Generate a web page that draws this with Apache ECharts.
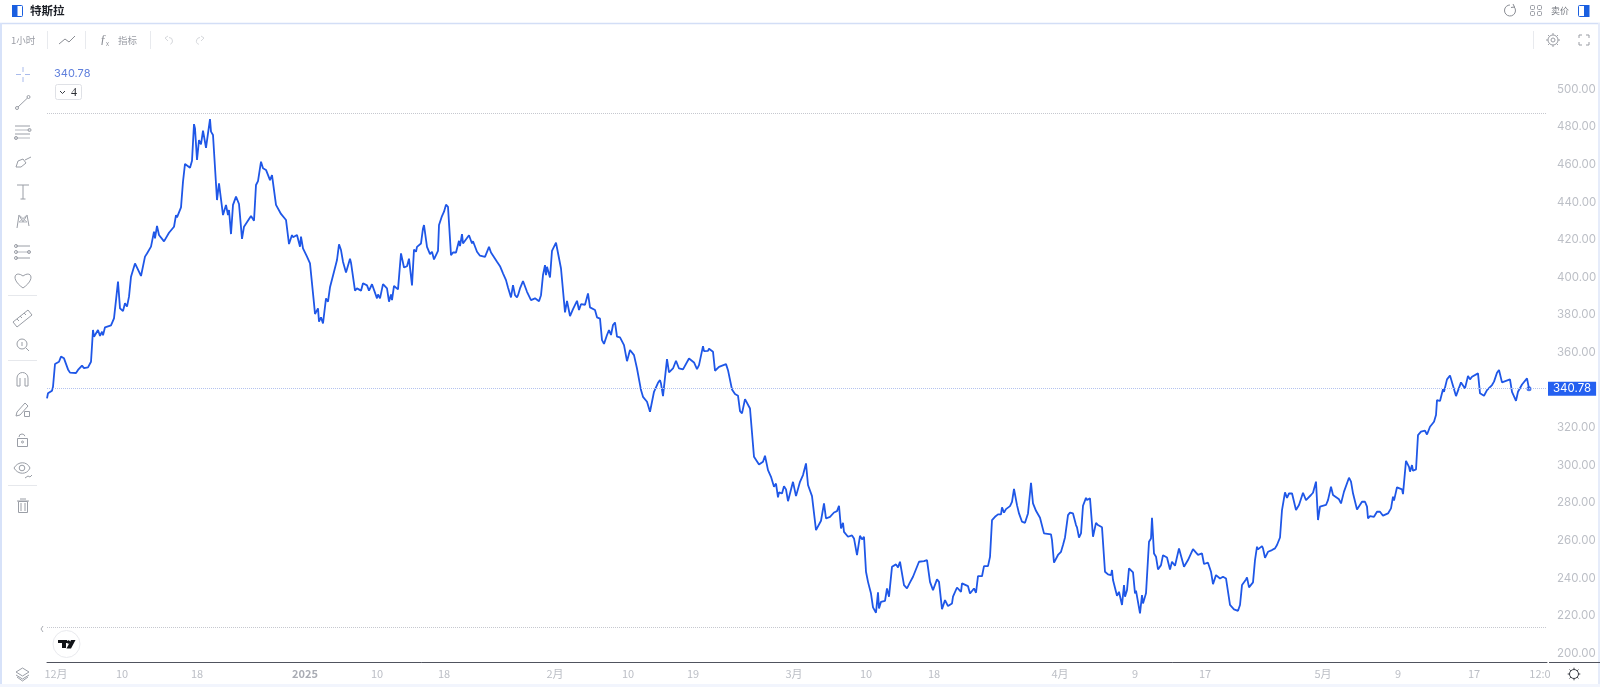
<!DOCTYPE html>
<html>
<head>
<meta charset="utf-8">
<title>特斯拉</title>
<style>
  html, body { margin: 0; padding: 0; background: #fff; }
  #chart { width: 1600px; height: 687px; }
</style>
<script src="https://cdn.jsdelivr.net/npm/echarts@6/dist/echarts.min.js"></script>
</head>
<body>
<div id="chart"></div>
<script>
// price trace: bar position and close
const barPos = [0,1,5,6,8,10,12,14,17,19,21,23,25,29,31,33,35,37,41,44,46,47,51,53,55,56,58,64,67,69,71,73,76,78,80,82,84,88,90,94,98,100,104,107,108,110,112,117,119,122,124,127,129,130,134,136,138,143,145,147,148,150,152,154,156,157,159,161,163,164,166,170,172,176,177,179,181,182,184,186,189,192,193,195,197,204,207,209,211,213,214,216,219,223,225,227,229,234,236,239,242,245,246,250,252,253,254,256,260,263,265,267,268,271,272,274,276,279,281,283,285,287,290,292,294,296,297,299,301,303,304,308,310,312,314,316,320,322,325,327,330,331,333,336,338,340,342,344,345,347,351,353,
  354,357,360,362,365,367,369,370,374,376,377,380,383,385,387,391,392,395,397,399,401,404,406,409,412,413,415,416,422,425,426,430,433,435,438,440,442,444,446,450,453,456,459,461,462,464,466,468,470,471,473,474,476,478,480,484,488,490,492,494,496,498,499,500,502,503,505,507,509,511,514,515,518,520,523,526,528,530,532,534,538,541,543,548,550,553,555,557,560,562,564,566,568,570,573,577,580,583,587,590,594,596,600,603,607,609,611,613,
  614,616,620,622,626,629,632,636,642,647,650,652,656,657,661,662,666,668,670,672,679,681,685,688,691,693,695,698,700,703,707,709,712,716,718,721,724,727,729,731,732,735,737,739,741,743,746,749,750,753,756,758,759,761,765,767,769,771,774,777,779,781,783,785,787,790,792,794,796,797,801,805,807,810,813,815,817,819,821,824,826,829,831,832,834,838,840,842,845,846,849,851,853,855,857,860,863,866,868,872,877,880,883,886,890,892,895,898,901,905,906,910,914,915,921,923,927,929,931,935,937,941,943,945,948,951,953,
  954,955,957,959,963,965,967,970,972,975,978,981,984,986,989,991,993,995,997,1004,1005,1007,1009,1011,1014,1016,1018,1021,1023,1026,1029,1030,1032,1034,1036,1039,1040,1043,1046,1049,1051,1053,1055,1058,1061,1064,1065,1066,1068,1070,1072,1075,1077,1078,1080,1082,1086,1088,1089,1093,1095,1096,1099,1102,1104,1105,1107,1109,1111,1114,1116,1120,1123,1125,1128,1132,1134,1137,1141,1146,1148,1151,1155,1157,1161,1164,1166,1169,1171,1173,1176,1179,1181,1183,1185,1187,1189,1191,1193,1195,1199,1200,1202,1206,1208,1210,1211,1215,1216,1218,1221,1223,1225,1228,1230,1233,1235,1238,1240,1242,
  1243,1245,1249,1252,1256,1259,1264,1266,1269,1271,1273,1275,1279,1281,1282,1284,1286,1292,1294,1297,1299,1302,1304,1306,1310,1311,1315,1318,1320,1321,1323,1327,1330,1333,1336,1341,1344,1346,1347,1350,1355,1356,1359,1362,1363,1365,1366,1369,1371,1374,1378,1380,1383,1387,1389,1390,1393,1396,1397,1400,1403,1405,1409,1410,1414,1418,1421,1423,1425,1431,1433,1435,1437,1440,1445,1447,1450,1452,1455,1457,1463,1465,1469,1471,1475,1477,1480,1482];

const closePrices = [335.6,338.3,339.7,341.8,353.9,353.9,355.1,357.8,356.9,356.7,351.0,349.3,350.2,349.1,350.7,350.3,353.0,351.7,352.1,355.1,372.0,368.4,372.0,368.8,371.1,369.1,373.4,374.4,378.2,387.9,397.7,383.5,382.1,386.2,384.4,389.7,400.3,407.4,407.6,400.7,411.0,412.7,416.3,424.3,420.7,427.3,422.5,419.1,418.1,423.7,423.7,426.9,433.1,431.9,437.2,450.9,460.3,458.3,462.0,481.5,479.2,462.4,473.0,470.7,478.0,478.7,468.9,476.6,484.2,477.5,475.7,441.1,450.0,433.1,432.2,438.5,433.1,435.8,423.0,438.5,442.9,439.0,438.8,420.4,426.9,432.6,430.1,449.1,451.2,451.7,461.5,458.0,457.1,451.7,454.4,453.9,438.5,433.7,434.0,430.5,417.7,422.5,421.3,422.5,421.6,416.3,421.6,415.4,411.0,407.4,396.8,386.1,380.5,383.5,376.4,378.7,375.5,388.8,387.0,394.7,395.4,403.0,409.2,417.5,414.5,408.3,408.3,402.5,402.1,409.9,407.8,392.9,394.1,394.1,392.9,396.8,395.7,392.9,396.3,395.9,388.8,390.9,388.8,396.4,395.5,394.1,387.0,390.9,387.9,395.4,393.6,406.5,
  412.7,405.2,405.9,409.9,395.7,414.8,413.6,416.2,418.0,426.0,427.8,416.2,412.3,413.6,409.5,414.1,427.8,432.6,434.9,438.6,437.5,411.8,413.2,413.2,419.4,416.6,423.0,418.0,422.4,418.0,419.2,413.6,411.5,411.8,410.9,410.6,416.2,413.2,412.3,408.3,405.9,402.1,398.5,394.6,394.1,389.3,395.8,390.5,389.3,390.5,394.1,393.2,398.0,397.6,392.3,387.9,388.8,389.3,387.3,390.5,401.2,406.5,401.2,405.6,404.7,399.9,414.1,415.0,418.4,418.7,404.7,404.2,381.3,387.5,379.4,383.1,382.9,387.5,382.6,385.7,385.4,391.4,384.0,382.6,378.7,378.0,366.6,364.6,369.3,371.9,369.3,374.6,376.0,368.4,368.0,363.9,355.4,361.3,358.6,351.5,340.0,336.4,333.8,328.5,339.1,339.5,343.9,345.3,
  343.5,336.8,356.5,349.4,351.5,355.6,351.5,351.0,356.8,354.7,351.2,353.3,363.4,360.7,360.9,362.0,360.4,350.3,349.7,352.4,353.8,350.6,340.3,337.9,337.0,328.8,327.6,335.2,335.9,330.2,304.5,305.4,300.4,301.9,305.1,297.4,293.9,288.6,290.3,282.9,285.6,285.0,288.9,287.2,280.9,280.9,291.2,283.6,282.7,291.2,294.8,295.7,301.0,289.5,283.6,283.9,265.5,266.0,270.5,279.7,271.7,271.4,272.6,271.7,274.9,275.6,278.5,266.4,269.4,264.6,262.0,262.7,261.1,252.2,262.5,260.6,262.0,243.4,238.0,231.8,224.4,221.6,232.4,223.8,227.4,227.9,234.5,230.1,246.0,245.0,247.3,245.7,248.7,247.8,236.3,234.5,237.7,240.7,241.6,248.7,249.0,249.6,238.0,233.6,239.3,238.0,223.5,228.3,225.1,226.5,230.1,235.0,232.7,237.2,235.7,231.8,234.5,232.2,241.0,241.0,246.4,246.4,251.3,270.8,272.6,273.9,273.5,
  273.9,277.6,274.8,276.7,278.3,280.6,287.4,278.8,274.4,270.0,269.4,274.4,290.7,279.7,275.8,276.2,272.1,272.1,263.8,263.2,260.2,248.2,247.5,252.3,254.0,257.6,261.6,273.5,274.8,274.4,268.2,267.0,261.6,263.8,278.5,282.7,281.5,282.4,262.0,269.4,268.2,269.1,267.0,243.4,242.0,241.6,244.3,239.0,239.0,230.6,232.7,225.7,236.3,230.1,233.6,245.2,243.0,231.9,233.3,221.2,231.0,226.5,231.9,259.3,261.1,272.1,253.1,251.4,244.6,246.9,252.2,251.0,244.6,248.7,246.6,255.8,255.4,246.0,249.6,255.4,255.3,252.4,253.1,247.5,248.2,243.4,236.8,241.6,242.1,239.8,240.7,239.8,240.7,225.7,224.8,223.4,223.9,222.6,225.7,236.3,239.3,240.4,235.1,237.7,249.6,256.7,255.3,257.0,255.8,250.8,254.0,253.1,254.9,255.8,257.6,261.6,276.2,285.6,282.7,285.0,
  285.1,285.1,276.2,278.9,285.4,281.5,284.2,285.4,291.3,270.9,278.0,278.0,278.9,281.5,281.2,288.6,284.2,281.9,279.7,286.0,286.8,293.4,291.3,285.1,276.5,276.2,280.6,280.6,278.0,271.8,273.0,272.6,275.3,275.3,273.2,274.4,277.1,283.3,281.2,288.3,287.2,284.7,302.4,299.2,296.6,300.1,297.1,297.8,316.1,317.9,318.4,316.4,320.5,323.2,326.7,334.7,334.2,340.4,339.1,345.7,347.8,347.6,336.8,336.8,344.1,340.9,347.5,345.7,347.1,348.9,338.3,338.3,337.0,340.0,342.7,344.5,349.2,350.7,344.1,343.6,345.7,339.1,334.3,339.1,343.0,343.2,346.2,340.78];

const tickPos = [9,75,150,258,330,397,508,581,646,747,819,887,1013,1088,1158,1276,1351,1427,1493];
const tickLabels = ['12月','10','18','2025','10','18','2月','10','19','3月','10','18','4月','9','17','5月','9','17','12:0'];

const lastPrice = 340.78;
const rangeHigh = 487.5;
const rangeLow = 213.8;

const cjk = '"Noto Sans CJK SC", sans-serif';
const axisGrey = '#bcbfc6';
const iconGrey = '#9a9ea6';

// small helpers for the toolbar chrome
function ln(x1, y1, x2, y2, color, w) {
    return { type: 'line', silent: true, shape: { x1, y1, x2, y2 }, style: { stroke: color || iconGrey, lineWidth: w || 1, fill: null } };
}
function circ(cx, cy, r, color, fill) {
    return { type: 'circle', silent: true, shape: { cx, cy, r }, style: { stroke: color || iconGrey, lineWidth: 1, fill: fill || null } };
}
function box(x, y, width, height, stroke, fill, r) {
    return { type: 'rect', silent: true, shape: { x, y, width, height, r: r || 0 }, style: { stroke: stroke || null, fill: fill || null, lineWidth: 1 } };
}
function poly(points, color) {
    return { type: 'polyline', silent: true, shape: { points }, style: { stroke: color || iconGrey, lineWidth: 1, fill: null } };
}
function fillPoly(points, color) {
    return { type: 'polygon', silent: true, shape: { points }, style: { fill: color } };
}
function curve(x1, y1, cpx1, cpy1, cpx2, cpy2, x2, y2) {
    return { type: 'bezierCurve', silent: true, shape: { x1, y1, cpx1, cpy1, cpx2, cpy2, x2, y2 }, style: { stroke: iconGrey, lineWidth: 1, fill: null } };
}
function label(x, y, text, size, color, weight, font) {
    return { type: 'text', silent: true, x, y, style: { text, fontSize: size, fill: color, fontWeight: weight || 'normal', fontFamily: font || cjk, verticalAlign: 'middle' } };
}
function arcLine(cx, cy, r, a0, a1, color) {
    return { type: 'arc', silent: true, shape: { cx, cy, r, startAngle: a0, endAngle: a1, clockwise: true }, style: { stroke: color || iconGrey, lineWidth: 1, fill: null } };
}
// gear: ring with short teeth
function gear(cx, cy, r, color) {
    const parts = [circ(cx, cy, r, color)];
    const d = r * 0.72, e = r * 1.4, s = Math.SQRT1_2;
    [[1, 0], [-1, 0], [0, 1], [0, -1], [s, s], [-s, s], [s, -s], [-s, -s]].forEach(([a, b]) => {
        parts.push(ln(cx + a * r, cy + b * r, cx + a * e, cy + b * e, color));
    });
    return parts;
}

const chrome = [
    // frame
    box(0, 0, 1600, 23, null, '#ffffff'),
    ln(0, 23.5, 1600, 23.5, '#d3def6', 1.5),
    box(0, 23, 2, 664, null, '#d7e2f9'),
    box(1598, 23, 2, 664, null, '#e6ecfa'),
    box(0, 684, 1600, 3, null, '#f2f5fd'),
    // header left
    box(12.5, 5.5, 10, 11, '#1a5fe0', '#ffffff', 1),
    box(12, 5, 5.5, 12, null, '#1a5fe0'),
    label(30, 10.5, '特斯拉', 11.5, '#1c1f26', 'bold'),
    // header right
    arcLine(1510, 10.5, 5.5, -0.7, 4.7, '#8a8d94'), poly([[1513, 4], [1514.5, 7], [1511, 7.5]], '#8a8d94'),
    box(1530.5, 5.5, 4, 4, '#9a9da4', null, 1), box(1537.5, 5.5, 4, 4, '#9a9da4', null, 1),
    box(1530.5, 11.5, 4, 4, '#9a9da4', null, 1), box(1537.5, 11.5, 4, 4, '#9a9da4', null, 1),
    label(1551, 10.5, '卖价', 9, '#6f737b'),
    box(1578.5, 5.5, 10, 11, '#1a5fe0', '#ffffff', 1),
    box(1584, 5, 5.5, 12, null, '#1a5fe0'),
    // toolbar
    label(11, 40, '1小时', 9.5, '#9a9da5'),
    ln(47.5, 31, 47.5, 49, '#e8eaee'),
    poly([[59, 44], [65, 39], [69, 42], [75, 36]], '#8a8d94'),
    ln(85.5, 31, 85.5, 49, '#e8eaee'),
    label(100, 40, 'ƒ', 13, '#8a8d94', 'normal', 'serif'),
    label(106, 44, 'x', 6, '#8a8d94'),
    label(118, 40, '指标', 9.5, '#9a9da5'),
    ln(150.5, 31, 150.5, 49, '#e8eaee'),
    poly([[168, 36], [165, 38], [168, 41]], '#d6d8dc'), arcLine(169, 41, 3.5, -1.57, 1.2, '#d6d8dc'),
    poly([[201, 36], [204, 38], [201, 41]], '#d6d8dc'), arcLine(200, 41, 3.5, 1.9, 4.71, '#d6d8dc'),
    ln(1533.5, 31, 1533.5, 49, '#e8eaee'),
    circ(1553, 40, 2, '#9a9da4'), ...gear(1553, 40, 5, '#9a9da4'),
    poly([[1579, 38], [1579, 35], [1582, 35]], '#9a9da4'), poly([[1586, 35], [1589, 35], [1589, 38]], '#9a9da4'),
    poly([[1579, 42], [1579, 45], [1582, 45]], '#9a9da4'), poly([[1586, 45], [1589, 45], [1589, 42]], '#9a9da4'),
    // pane legend
    label(54, 74, '340.78', 11, '#5f7fdc', 'normal', 'Inter'),
    box(55.5, 84.5, 26, 15, '#dfe1e6', '#ffffff', 2),
    poly([[60, 91], [62.5, 93.5], [65, 91]], '#3a3d44'),
    label(71, 92.5, '4', 12, '#2a2d33', 'normal', '"Liberation Serif"'),
    // left tool column
    ln(16, 74.5, 21, 74.5, '#a9bbec'), ln(25, 74.5, 30, 74.5, '#a9bbec'), ln(23, 67, 23, 72, '#a9bbec'), ln(23, 77, 23, 82, '#a9bbec'),
    circ(17, 108, 1.5), circ(28.5, 97, 1.5), ln(18, 107, 27.5, 98),
    ln(15, 126, 30, 126), ln(15, 130, 30, 130, '#b5b8bf'), ln(15, 134, 30, 134), ln(15, 138, 30, 138, '#b5b8bf'), circ(29.5, 130, 1.5), circ(16, 138, 1.5),
    poly([[16, 167], [18, 161], [23, 159], [26, 163], [21, 167], [16, 167]]), ln(25, 160, 31, 157),
    ln(17, 185, 29, 185), ln(23, 185, 23, 199), ln(20.5, 199, 25.5, 199),
    poly([[17, 228], [19, 215], [23, 222], [27, 215], [29, 226]]), poly([[19, 215], [27, 222], [19, 222], [27, 215]], '#b5b8bf'),
    ln(16, 246, 30, 246), ln(16, 252, 30, 252, '#b5b8bf'), ln(16, 258, 30, 258), circ(16, 246, 1.5), circ(16, 252, 1.5), circ(16, 258, 1.5), circ(29, 252, 1.5),
    // heart
    curve(23, 288, 10, 279, 15, 270, 23, 276), curve(23, 276, 31, 270, 36, 279, 23, 288),
    ln(8, 295.5, 37, 295.5, '#e6e8ec'),
    poly([[13, 322], [28, 310], [32, 315], [17, 327], [13, 322]]), ln(17, 319, 19, 321), ln(20, 316, 22, 318), ln(24, 313, 26, 315),
    circ(22, 344, 5), ln(22, 342, 22, 346), ln(26, 348, 29, 351),
    ln(8, 360.5, 37, 360.5, '#e6e8ec'),
    arcLine(22.5, 378, 5.5, 3.14, 6.28), ln(17, 378, 17, 386), ln(28, 378, 28, 386), ln(20, 378, 20, 386), ln(25, 378, 25, 386), ln(17, 386, 20, 386), ln(25, 386, 28, 386),
    poly([[17, 412], [25, 403], [28, 406], [20, 415], [16, 416], [17, 412]]), box(24.5, 411.5, 5, 5, iconGrey),
    box(17.5, 438.5, 10, 8, iconGrey), arcLine(22, 437, 3, 3.14, 6.0), circ(22.5, 442, 1),
    // eye
    curve(14, 468, 18, 461, 27, 461, 30, 468), curve(14, 468, 18, 475, 27, 475, 30, 468),
    circ(22, 468, 2.8), poly([[25, 478], [28, 476], [30, 477], [32, 475]]),
    ln(8, 485.5, 37, 485.5, '#e6e8ec'),
    box(18.5, 501.5, 9, 11, iconGrey), ln(17, 501, 29, 501), ln(20, 499, 26, 499), ln(21, 503, 21, 511), ln(25, 503, 25, 511),
    // logo and bottom row
    ln(43, 626, 41, 629, '#a8abb2'), ln(41, 629, 43, 632, '#a8abb2'),
    circ(66.5, 644, 13.5, '#e9eaee', '#ffffff'),
    box(58, 640, 9, 3, null, '#111317'), box(62, 640, 4, 8, null, '#111317'),
    circ(68.5, 642, 1.3, '#111317', '#111317'),
    fillPoly([[71, 640], [75.5, 640], [71, 648.5], [66.5, 648.5]], '#111317'),
    poly([[16, 672], [22.5, 668], [29, 672], [22.5, 676], [16, 672]]), poly([[16, 675], [22.5, 679], [29, 675]]), poly([[17, 677], [22.5, 681], [28, 677]]),
    ...gear(1574, 674, 4.5, '#3a3d44'),
    ln(1549, 662.5, 1600, 662.5, '#50535e')
];

const dom = document.getElementById('chart');
const myChart = echarts.init(dom);
const option = {
    animation: false,
    backgroundColor: '#ffffff',
    grid: { left: 47, right: 53, top: 89.3, bottom: 33.7, containLabel: false },
    graphic: { elements: chrome },
    xAxis: {
        type: 'value',
        min: 0,
        max: 1500,
        offset: 8.7,
        splitLine: { show: false },
        axisLine: { show: true, onZero: false, lineStyle: { color: '#50535e', width: 1 } },
        axisTick: { show: false },
        axisLabel: {
            customValues: tickPos,
            hideOverlap: false,
            margin: 6,
            fontSize: 11,
            fontFamily: cjk,
            color: axisGrey,
            formatter: v => {
                const s = tickLabels[tickPos.indexOf(v)];
                return s === '2025' ? '{b|2025}' : s;
            },
            rich: { b: { fontSize: 11, fontWeight: 'bold', color: '#a9acb4', fontFamily: cjk } }
        }
    },
    yAxis: {
        type: 'value',
        position: 'right',
        min: 200,
        max: 500,
        interval: 20,
        splitLine: { show: false },
        axisLine: { show: false },
        axisTick: { show: false },
        axisLabel: {
            margin: 10,
            fontSize: 11.5,
            fontFamily: 'Inter',
            color: axisGrey,
            padding: [2, 0, 0, 0],
            formatter: v => v.toFixed(2)
        }
    },
    series: [
        {
            type: 'line',
            data: barPos.map((x, i) => [x, closePrices[i]]),
            showSymbol: false,
            smooth: false,
            lineStyle: { color: '#1f57e7', width: 1.8 },
            markLine: {
                silent: true,
                symbol: 'none',
                animation: false,
                data: [
                    { yAxis: rangeHigh, lineStyle: { color: '#c6c8cf', type: 'dotted', width: 1 }, label: { show: false } },
                    { yAxis: rangeLow, lineStyle: { color: '#c6c8cf', type: 'dotted', width: 1 }, label: { show: false } },
                    {
                        yAxis: lastPrice,
                        lineStyle: { color: '#b4c3ef', type: 'dotted', width: 1 },
                        label: {
                            show: true,
                            position: 'end',
                            distance: 1,
                            formatter: lastPrice.toFixed(2),
                            backgroundColor: '#2460f0',
                            color: '#ffffff',
                            fontSize: 11.5,
                            fontFamily: 'Inter',
                            padding: [1, 5, 1, 5]
                        }
                    }
                ]
            }
        },
        {
            type: 'scatter',
            data: [[barPos[barPos.length - 1], lastPrice]],
            symbolSize: 5,
            itemStyle: { color: '#1f57e7' },
            silent: true
        }
    ]
};
myChart.setOption(option);
window.addEventListener('resize', () => myChart.resize());
</script>
</body>
</html>
